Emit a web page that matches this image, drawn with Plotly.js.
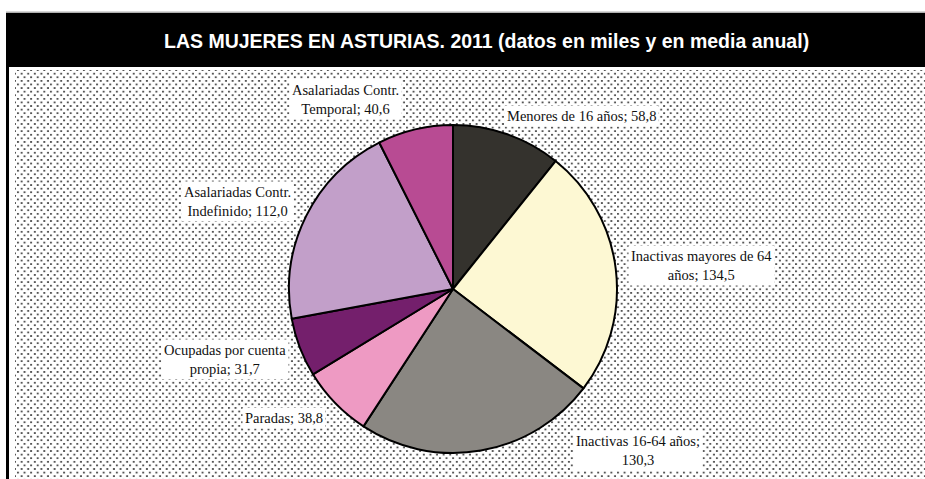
<!DOCTYPE html>
<html>
<head>
<meta charset="utf-8">
<script src="https://cdn.plot.ly/plotly-3.0.1.min.js"></script>
<style>
  html, body { margin: 0; padding: 0; background: #fff; overflow: hidden; }
  body { width: 925px; height: 479px; }
  #chart {
    width: 925px; height: 479px;
    background-color: #fff;
    background-image:
      radial-gradient(circle at 25% 25%, #555 0.9px, rgba(255,255,255,0) 1.3px),
      radial-gradient(circle at 75% 75%, #555 0.9px, rgba(255,255,255,0) 1.3px);
    background-size: 6.6px 7.2px;
  }
</style>
</head>
<body>
<div id="chart"></div>
<script>
// ---- data ----
const categories = [
  "Menores de 16 años",
  "Inactivas mayores de 64\naños",
  "Inactivas 16-64 años",
  "Paradas",
  "Ocupadas por cuenta\npropia",
  "Asalariadas Contr.\nIndefinido",
  "Asalariadas Contr.\nTemporal"
];
const values = [58.8, 134.5, 130.3, 38.8, 31.7, 112.0, 40.6];
const breakBeforeValue = [false, false, true, false, false, false, false];
const colors = ["#34322d", "#fdf8d3", "#8a8782", "#ee9ac3", "#741f6c", "#c29fc9", "#b84b93"];
const titleText = "LAS MUJERES EN ASTURIAS. 2011 (datos en miles y en media anual)";

// ---- layout helpers (pixel -> paper) ----
const W = 925, H = 479;
const px = x => x / W;
const py = y => 1 - y / H;

// label positions (pixel centres)
const labelPos = [
  [581, 116], [701, 265], [638, 450], [284, 418], [225, 359], [238, 202], [345, 99]
];

const fmt = v => v.toFixed(1).replace(".", ",");

const annotations = categories.map((c, i) => {
  const name = c.replace("\n", "<br>");
  const sep = breakBeforeValue[i] ? ";<br>" : "; ";
  return {
    xref: "paper", yref: "paper",
    x: px(labelPos[i][0]), y: py(labelPos[i][1]),
    xanchor: "center", yanchor: "middle",
    text: name + sep + fmt(values[i]),
    showarrow: false,
    align: "center",
    bgcolor: "#ffffff",
    borderpad: 2,
    font: { family: "Liberation Serif", size: 14.5, color: "#111" }
  };
});

annotations.push({
  xref: "paper", yref: "paper",
  x: px(487), y: py(41), xanchor: "center", yanchor: "middle",
  text: "<b>" + titleText + "</b>", showarrow: false,
  font: { family: "Liberation Sans", size: 19.5, color: "#ffffff" }
});

const shapes = [
  { type: "rect", xref: "paper", yref: "paper", x0: 0, x1: 1, y0: py(12), y1: 1, fillcolor: "#fff", line: { width: 0 }, layer: "below" },
  { type: "rect", xref: "paper", yref: "paper", x0: 0, x1: px(15), y0: 0, y1: 1, fillcolor: "#fff", line: { width: 0 }, layer: "below" },
  { type: "rect", xref: "paper", yref: "paper", x0: 0, x1: 1, y0: py(70), y1: py(66), fillcolor: "#fff", line: { width: 0 }, layer: "below" },
  { type: "rect", xref: "paper", yref: "paper", x0: px(6), x1: 1, y0: py(13), y1: py(11.5), fillcolor: "#b0b0b0", line: { width: 0 }, layer: "below" },
  { type: "rect", xref: "paper", yref: "paper", x0: px(6), x1: 1, y0: py(67), y1: py(13), fillcolor: "#000", line: { width: 0 }, layer: "below" },
  { type: "rect", xref: "paper", yref: "paper", x0: px(6), x1: px(9), y0: 0, y1: py(13), fillcolor: "#000", line: { width: 0 }, layer: "below" }
];

const cx = 453, cy = 289, r = 164;
const trace = {
  type: "pie",
  values: values,
  labels: categories.map(c => c.replace("\n", " ")),
  sort: false,
  direction: "clockwise",
  rotation: 0,
  textinfo: "none",
  marker: { colors: colors, line: { color: "#000", width: 2 } },
  domain: { x: [px(cx - r), px(cx + r)], y: [py(cy + r), py(cy - r)] },
  showlegend: false
};

const layout = {
  width: W, height: H,
  margin: { l: 0, r: 0, t: 0, b: 0 },
  paper_bgcolor: "rgba(0,0,0,0)",
  plot_bgcolor: "rgba(0,0,0,0)",
  showlegend: false,
  shapes: shapes,
  annotations: annotations
};

Plotly.newPlot("chart", [trace], layout, { displayModeBar: false, staticPlot: true });
</script>
</body>
</html>
